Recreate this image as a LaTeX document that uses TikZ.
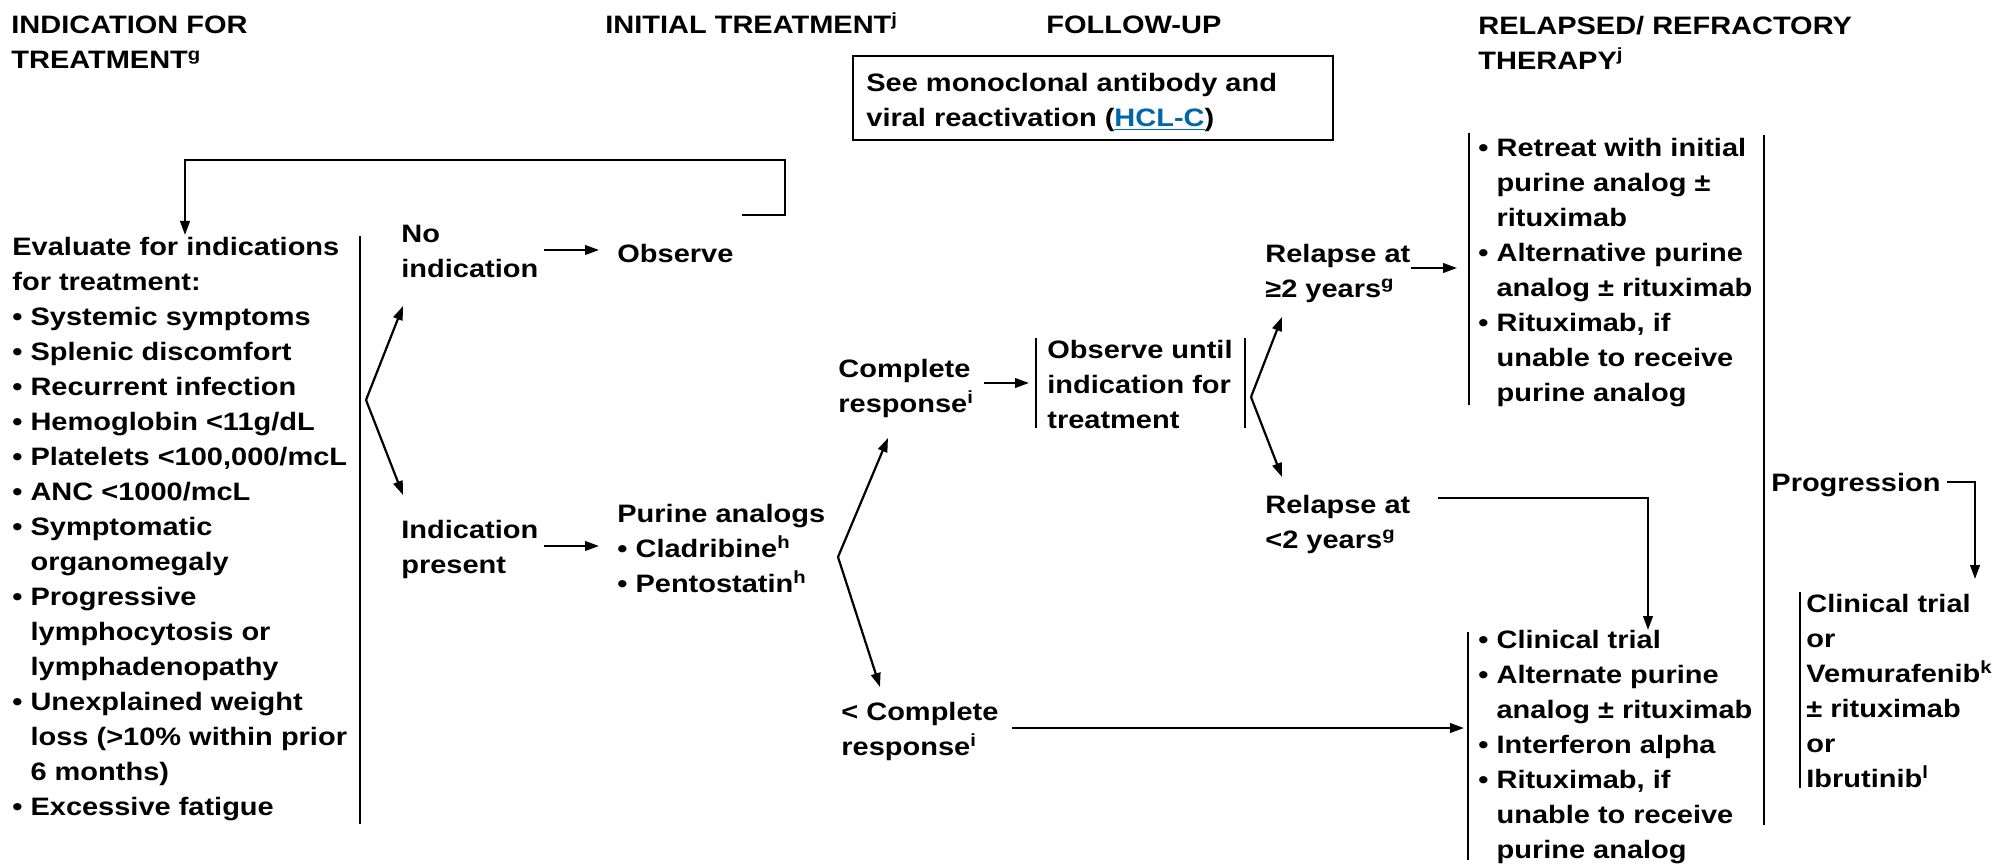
\documentclass[tikz,border=0pt]{standalone}
\usepackage{fontspec}
\setmainfont[FakeStretch=1.15]{Liberation Sans}
\usetikzlibrary{arrows.meta}
\definecolor{linkblue}{RGB}{0,102,170}
\begin{document}
\begin{tikzpicture}[x=0.5pt,y=-0.5pt,
  txt/.style={anchor=north west, inner sep=0pt, align=left, font=\fontsize{12.6}{17.5}\selectfont\bfseries},
  hd/.style={anchor=base west, inner sep=0pt, align=left, font=\fontsize{12.6}{17.5}\selectfont\bfseries},
  arr/.style={line width=1.1pt, -{Triangle[length=7pt,width=4.8pt]}},
  ln/.style={line width=1.1pt},
  bar/.style={line width=1.1pt},
  note/.style={draw, line width=1.2pt}]
\useasboundingbox (0,0) rectangle (1997,866);

% headers
\node[txt] (hInd) at (11,16) {INDICATION FOR\\TREATMENT\textsuperscript{g}};
\node[hd] (hInit) at (605,34) {INITIAL TREATMENT\textsuperscript{j}};
\node[hd] (hFol) at (1046,34) {FOLLOW-UP};
\node[txt] (hRel) at (1478,16) {RELAPSED/ REFRACTORY\\THERAPY\textsuperscript{j}};

% note box
\node[note, minimum width=240pt, minimum height=42pt, anchor=north west, inner sep=0pt] (box) at (852,55) {};
\node[txt] (boxt) at (866,73) {See monoclonal antibody and\\viral reactivation (\textcolor{linkblue}{\underline{HCL-C}})};

% left column
\node[txt] (eval) at (12,237) {Evaluate for indications\\
for treatment:\\
• Systemic symptoms\\
• Splenic discomfort\\
• Recurrent infection\\
• Hemoglobin <11g/dL\\
• Platelets <100,000/mcL\\
• ANC <1000/mcL\\
• Symptomatic\\
\phantom{• }organomegaly\\
• Progressive\\
\phantom{• }lymphocytosis or\\
\phantom{• }lymphadenopathy\\
• Unexplained weight\\
\phantom{• }loss (>10\% within prior\\
\phantom{• }6 months)\\
• Excessive fatigue};

\node[txt] (noind) at (401,225) {No\\indication};
\node[txt] (obs) at (617,244) {Observe};
\node[txt] (indp) at (401,520) {Indication\\present};
\node[txt] (pur) at (617,504) {Purine analogs\\• Cladribine\textsuperscript{h}\\• Pentostatin\textsuperscript{h}};
\node[txt] (cr) at (838,359) {Complete\\response\textsuperscript{i}};
\node[txt] (lcr) at (841,702) {< Complete\\response\textsuperscript{i}};
\node[txt] (obsu) at (1047,340) {Observe until\\indication for\\treatment};
\node[txt] (rge) at (1265,244) {Relapse at\\≥2 years\textsuperscript{g}};
\node[txt] (rlt) at (1265,495) {Relapse at\\<2 years\textsuperscript{g}};
\node[txt] (ret) at (1478,138) {• Retreat with initial\\
\phantom{• }purine analog ±\\
\phantom{• }rituximab\\
• Alternative purine\\
\phantom{• }analog ± rituximab\\
• Rituximab, if\\
\phantom{• }unable to receive\\
\phantom{• }purine analog};
\node[txt] (bl) at (1478,630) {• Clinical trial\\
• Alternate purine\\
\phantom{• }analog ± rituximab\\
• Interferon alpha\\
• Rituximab, if\\
\phantom{• }unable to receive\\
\phantom{• }purine analog};
\node[txt] (prog) at (1771,473) {Progression};
\node[txt] (ct) at (1806,594) {Clinical trial\\or\\Vemurafenib\textsuperscript{k}\\± rituximab\\or\\Ibrutinib\textsuperscript{l}};

% bars
\draw[bar] (360,236) -- (360,824);
\draw[bar] (1036,338) -- (1036,428);
\draw[bar] (1245,338) -- (1245,428);
\draw[bar] (1469,133) -- (1469,405);
\draw[bar] (1764,135) -- (1764,825);
\draw[bar] (1468,632) -- (1468,860);
\draw[bar] (1800,592) -- (1800,788);

% named points
\coordinate (v1) at (366,400);
\coordinate (v1u) at (403,306);
\coordinate (v1d) at (403,495);
\coordinate (v2) at (838,557);
\coordinate (v2u) at (888,438);
\coordinate (v2d) at (880,687);
\coordinate (v3) at (1251,397);
\coordinate (v3u) at (1282,317);
\coordinate (v3d) at (1282,477);

% branches
\draw[arr] (v1) -- (v1u);
\draw[arr] (v1) -- (v1d);
\draw[arr] (v2) -- (v2u);
\draw[arr] (v2) -- (v2d);
\draw[arr] (v3) -- (v3u);
\draw[arr] (v3) -- (v3d);

% horizontal arrows
\coordinate (a1s) at (544,250); \coordinate (a1e) at (599,250);
\draw[arr] (a1s) -- (a1e);
\coordinate (a2s) at (544,546); \coordinate (a2e) at (599,546);
\draw[arr] (a2s) -- (a2e);
\coordinate (a3s) at (984,383); \coordinate (a3e) at (1029,383);
\draw[arr] (a3s) -- (a3e);
\coordinate (a4s) at (1411,268); \coordinate (a4e) at (1457,268);
\draw[arr] (a4s) -- (a4e);
\coordinate (a5s) at (1012,728); \coordinate (a5e) at (1464,728);
\draw[arr] (a5s) -- (a5e);

% relapse <2 years to bottom list
\coordinate (r2s) at (1438,498); \coordinate (r2e) at (1648,630);
\draw[arr] (r2s) -| (r2e);

% progression
\coordinate (ps) at (1947,482); \coordinate (pe) at (1975,579);
\draw[arr] (ps) -| (pe);

% feedback loop
\coordinate (fb1) at (742,215); \coordinate (fb2) at (785,160); \coordinate (fb3) at (185,235);
\draw[arr] (fb1) -| (fb2) -| (fb3);
\end{tikzpicture}
\end{document}
